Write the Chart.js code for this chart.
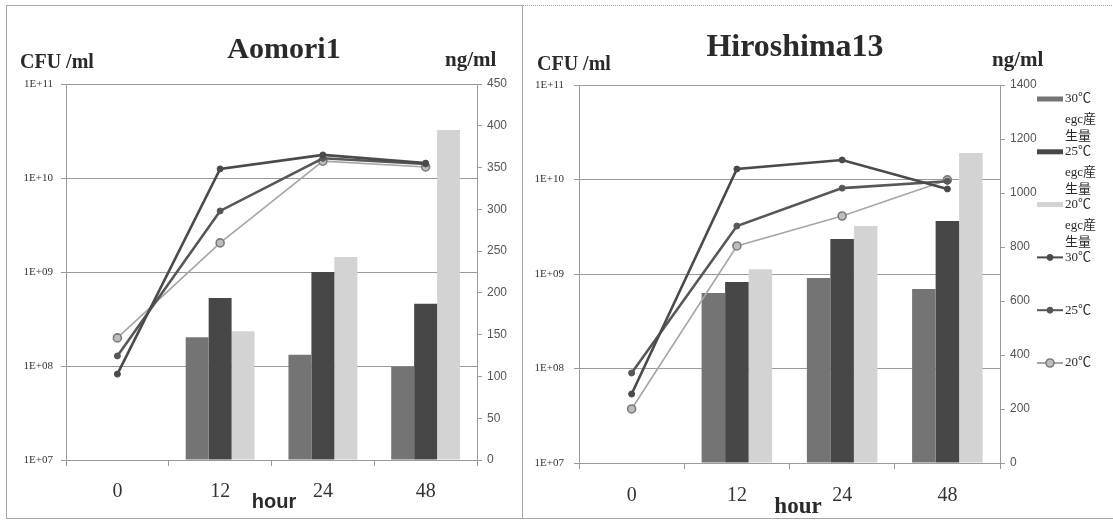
<!DOCTYPE html>
<html>
<head>
<meta charset="utf-8">
<script src="https://cdn.jsdelivr.net/npm/chart.js@4.4.1/dist/chart.umd.min.js"></script>
<style>
  html, body { margin: 0; padding: 0; background: #fff; }
  body { width: 1113px; height: 521px; position: relative; overflow: hidden; }
  .panel { position: absolute; box-sizing: border-box; border: 1px solid #a8a8a8; }
  #panelA { left: 6px; top: 5px; width: 517px; height: 514px; }
  #panelB { left: 522px; top: 5px; width: 600px; height: 514px; border-top-style: dotted; }
  canvas { position: absolute; }
  #cA { left: 6px; top: 6px; }
  #cB { left: 522px; top: 6px; }
</style>
</head>
<body>
<div class="panel" id="panelA"></div>
<div class="panel" id="panelB"></div>
<canvas id="cA" width="516" height="512"></canvas>
<canvas id="cB" width="591" height="512"></canvas>
<script>
// Sampling times (hours)
const hours = ['0', '12', '24', '48'];
const temps = ['30℃', '25℃', '20℃'];
const productLabel = 'egc産生量';

// Aomori1: toxin production (ng/ml, bars) and viable count (CFU/ml, lines)
const aomoriNg30 = [null, 147, 126, 112];
const aomoriNg25 = [null, 194, 225, 187];
const aomoriNg20 = [null, 154, 243, 395];
const aomoriCfu30 = [8.2e7, 1.25e10, 1.76e10, 1.44e10];
const aomoriCfu25 = [1.28e8, 4.46e9, 1.62e10, 1.41e10];
const aomoriCfu20 = [1.99e8, 2.04e9, 1.51e10, 1.31e10];

// Hiroshima13
const hiroNg30 = [null, 630, 685, 644];
const hiroNg25 = [null, 670, 830, 896];
const hiroNg20 = [null, 718, 878, 1148];
const hiroCfu30 = [5.37e7, 1.29e10, 1.61e10, 7.94e9];
const hiroCfu25 = [8.96e7, 3.22e9, 8.1e9, 9.6e9];
const hiroCfu20 = [3.73e7, 1.98e9, 4.11e9, 9.9e9];

// Log axis decades and their labels
const cfuTicks = [1e7, 1e8, 1e9, 1e10, 1e11];
const cfuTickLabels = ['1E+07', '1E+08', '1E+09', '1E+10', '1E+11'];

const barColors = ['#747474', '#474747', '#d3d3d3'];
const lineColors = ['#4a4a4a', '#575757', '#a6a6a6'];
const axisGray = '#9a9a9a';
const textDark = '#2a2a2a';

// Free-positioned text (titles, unit captions, axis caption)
const overlayText = {
  id: 'overlayText',
  afterDraw(chart, args, opts) {
    const ctx = chart.ctx;
    ctx.save();
    (opts.items || []).forEach(t => {
      ctx.font = t.font;
      ctx.fillStyle = t.color || textDark;
      ctx.textAlign = t.align || 'left';
      ctx.textBaseline = 'alphabetic';
      ctx.fillText(t.text, t.x, t.y);
    });
    ctx.restore();
  }
};

// Legend stacked to the right of the right-hand axis, labels wrapped narrow
const sideLegend = {
  id: 'sideLegend',
  afterDraw(chart, args, opts) {
    if (!opts.display) return;
    const ctx = chart.ctx;
    const area = chart.chartArea;
    const x0 = opts.x;
    const sw = 26;
    ctx.save();
    ctx.font = opts.font;
    ctx.textBaseline = 'middle';
    ctx.textAlign = 'left';
    chart.data.datasets.forEach((ds, i) => {
      const y = area.top + opts.firstY + i * opts.step;
      if (ds.type === 'line') {
        ctx.strokeStyle = ds.borderColor;
        ctx.lineWidth = 2;
        ctx.beginPath(); ctx.moveTo(x0, y); ctx.lineTo(x0 + sw, y); ctx.stroke();
        ctx.beginPath(); ctx.arc(x0 + sw / 2, y, ds.pointRadius, 0, Math.PI * 2);
        ctx.fillStyle = ds.pointBackgroundColor; ctx.fill();
        ctx.lineWidth = ds.pointBorderWidth; ctx.strokeStyle = ds.pointBorderColor; ctx.stroke();
      } else {
        ctx.fillStyle = ds.backgroundColor;
        ctx.fillRect(x0, y - 2.5, sw, 5);
      }
      // first word beside the key, the rest wrapped into a narrow column
      const parts = ds.label.split(' ');
      const lines = [parts[0]];
      const rest = parts.slice(1).join(' ');
      let cur = '';
      for (const ch of rest) {
        if (ctx.measureText(cur + ch).width > opts.wrap && cur) { lines.push(cur); cur = ch; }
        else cur += ch;
      }
      if (cur) lines.push(cur);
      ctx.fillStyle = textDark;
      lines.forEach((ln, k) => {
        ctx.fillText(ln, x0 + sw + 2, y + (k === 0 ? 0 : 4 + k * 17));
      });
    });
    ctx.restore();
  }
};

function makeDatasets(ng, cfu) {
  const bars = ng.map((arr, i) => ({
    type: 'bar',
    label: temps[i] + ' ' + productLabel,
    data: arr,
    yAxisID: 'ng',
    backgroundColor: barColors[i],
    borderWidth: 0,
    categoryPercentage: 0.67,
    barPercentage: 1.0,
    order: 2
  }));
  const lines = cfu.map((arr, i) => ({
    type: 'line',
    label: temps[i],
    data: arr,
    yAxisID: 'cfu',
    borderColor: lineColors[i],
    borderWidth: i === 2 ? 1.6 : 2.6,
    pointRadius: i === 2 ? 4 : 3,
    pointBackgroundColor: i === 2 ? '#bdbdbd' : lineColors[i],
    pointBorderColor: i === 2 ? '#7a7a7a' : lineColors[i],
    pointBorderWidth: i === 2 ? 1.6 : 1,
    tension: 0,
    order: 1
  }));
  return bars.concat(lines);
}

function buildChart(id, cfg) {
  return new Chart(document.getElementById(id), {
    type: 'bar',
    data: { labels: hours, datasets: makeDatasets(cfg.ng, cfg.cfu) },
    options: {
      responsive: false,
      animation: false,
      layout: { padding: { top: cfg.top, left: 0, right: 0, bottom: 0 } },
      plugins: {
        legend: { display: false },
        tooltip: { enabled: false },
        overlayText: { items: cfg.texts },
        sideLegend: cfg.legend || { display: false }
      },
      scales: {
        x: {
          offset: true,
          grid: { offset: true, drawOnChartArea: false, color: axisGray, tickLength: 6 },
          border: { color: axisGray },
          ticks: {
            font: { family: 'Liberation Serif', size: 20 },
            color: '#333',
            padding: cfg.xPad,
            maxRotation: 0
          },
          afterFit: s => { s.height = cfg.xHeight; }
        },
        cfu: {
          type: 'logarithmic',
          position: 'left',
          min: 1e7,
          max: 1e11,
          afterBuildTicks: s => { s.ticks = cfuTicks.map(v => ({ value: v })); },
          grid: { color: axisGray, tickLength: 5 },
          border: { color: axisGray },
          ticks: {
            autoSkip: false,
            font: { family: 'Liberation Serif', size: 11 },
            color: '#333',
            padding: cfg.leftPad,
            callback: (v, i) => cfuTickLabels[i]
          },
          afterFit: s => { s.width = cfg.leftW; }
        },
        ng: {
          type: 'linear',
          position: 'right',
          min: 0,
          max: cfg.ngMax,
          grid: { drawOnChartArea: false, color: axisGray, tickLength: 5 },
          border: { color: axisGray },
          ticks: {
            stepSize: cfg.ngStep,
            font: { family: 'Liberation Sans', size: 12 },
            color: '#555',
            padding: 5,
            callback: v => String(v)
          },
          afterFit: s => { s.width = cfg.rightW; }
        }
      }
    },
    plugins: [overlayText, sideLegend]
  });
}

buildChart('cA', {
  ng: [aomoriNg30, aomoriNg25, aomoriNg20],
  cfu: [aomoriCfu30, aomoriCfu25, aomoriCfu20],
  top: 78, leftW: 60, rightW: 45, xHeight: 58, xPad: 14, leftPad: 8,
  ngMax: 450, ngStep: 50,
  texts: [
    { text: 'Aomori1', x: 278, y: 52, align: 'center', font: 'bold 30px "Liberation Serif"' },
    { text: 'CFU /ml', x: 14, y: 62, font: 'bold 20px "Liberation Serif"' },
    { text: 'ng/ml', x: 439, y: 60, font: 'bold 21px "Liberation Serif"' },
    { text: 'hour', x: 268, y: 502, align: 'center', font: 'bold 20px "Liberation Sans"' }
  ]
});

buildChart('cB', {
  ng: [hiroNg30, hiroNg25, hiroNg20],
  cfu: [hiroCfu30, hiroCfu25, hiroCfu20],
  top: 79, leftW: 57, rightW: 113, xHeight: 55, xPad: 15, leftPad: 10,
  ngMax: 1400, ngStep: 200,
  texts: [
    { text: 'Hiroshima13', x: 273, y: 50, align: 'center', font: 'bold 32px "Liberation Serif"' },
    { text: 'CFU /ml', x: 15, y: 64, font: 'bold 20px "Liberation Serif"' },
    { text: 'ng/ml', x: 470, y: 60, font: 'bold 21px "Liberation Serif"' },
    { text: 'hour', x: 276, y: 507, align: 'center', font: 'bold 23px "Liberation Serif"' }
  ],
  legend: {
    display: true, x: 515, firstY: 14, step: 52.8, wrap: 34,
    font: '13px "Liberation Serif", "Noto Sans CJK JP"'
  }
});
</script>
</body>
</html>
